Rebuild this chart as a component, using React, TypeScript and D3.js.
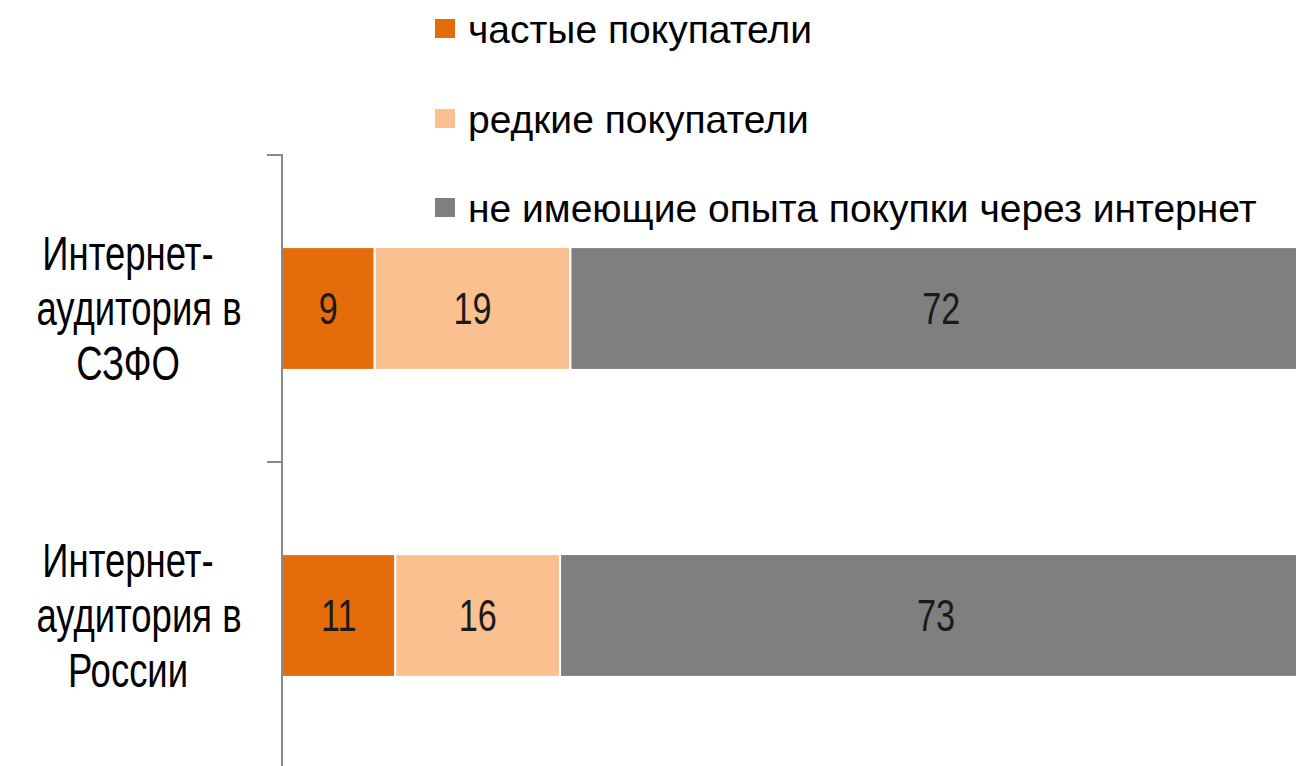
import React, { useEffect, useRef } from 'react';
import * as d3 from 'd3';

const categories = ['Интернет-аудитория в СЗФО', 'Интернет-аудитория в России'];
const categoryLines = [
  ['Интернет-', 'аудитория в', 'СЗФО'],
  ['Интернет-', 'аудитория в', 'России'],
];
const seriesNames = ['частые покупатели', 'редкие покупатели', 'не имеющие опыта покупки через интернет'];
const frequent = [9, 11];
const rare = [19, 16];
const never = [72, 73];
const colors = ['#E46C0A', '#FAC090', '#7F7F7F'];

const FONT = '"Liberation Sans Narrow", "Arial Narrow", "Liberation Sans", Arial, sans-serif';

function App() {
  const ref = useRef<SVGSVGElement>(null);

  useEffect(() => {
    const svg = d3.select(ref.current);
    svg.selectAll('*').remove();

    const rows = categories.map((c, i) => ({
      cat: c,
      lines: categoryLines[i],
      values: [frequent[i], rare[i], never[i]],
    }));

    const x = d3.scaleLinear().domain([0, 100]).range([282, 1312]);
    const band = d3.scaleBand().domain(categories).range([155, 769]);
    const y = d3.scaleBand().domain(categories).range([155, 769]).paddingInner(0.6).paddingOuter(0.3);

    rows.forEach(r => {
      let acc = 0;
      r.values.forEach((v, k) => {
        svg
          .append('rect')
          .attr('x', x(acc))
          .attr('y', y(r.cat)!)
          .attr('width', x(acc + v) - x(acc))
          .attr('height', y.bandwidth())
          .attr('fill', colors[k])
          .attr('stroke', '#fff')
          .attr('stroke-width', 2);
        const cx = (x(acc) + x(acc + v)) / 2;
        svg
          .append('text')
          .attr('transform', `translate(${cx},${y(r.cat)! + y.bandwidth() / 2}) scale(0.76,1)`)
          .attr('dy', '0.35em')
          .attr('text-anchor', 'middle')
          .attr('font-family', FONT)
          .attr('font-size', 45)
          .attr('fill', '#1a1a1a')
          .text(v);
        acc += v;
      });

      const cy = band(r.cat)! + band.bandwidth() / 2;
      r.lines.forEach((ln, j) => {
        svg
          .append('text')
          .attr('transform', `translate(${j === 1 ? 139 : 128},${cy + (j - 1) * 55}) scale(0.76,1)`)
          .attr('dy', '0.35em')
          .attr('text-anchor', 'middle')
          .attr('font-family', FONT)
          .attr('font-size', 48)
          .attr('fill', '#000')
          .text(ln);
      });
    });

    // category axis
    const axis = svg.append('g').attr('transform', 'translate(282,0)').call(
      d3.axisLeft(band).tickSize(15).tickFormat(() => ''),
    );
    axis.select('.domain').attr('stroke', '#888').attr('stroke-width', 2).attr('d', 'M-15,155H0V769');
    axis.selectAll('.tick').attr('transform', d => `translate(0,${band(d as string)! + band.bandwidth()})`);
    axis.selectAll('.tick line').attr('stroke', '#888').attr('stroke-width', 2);

    // legend
    const legendY = [28, 118, 207];
    seriesNames.forEach((s, k) => {
      svg
        .append('rect')
        .attr('x', 435)
        .attr('y', legendY[k] - 9)
        .attr('width', 20)
        .attr('height', 19)
        .attr('fill', colors[k]);
      svg
        .append('text')
        .attr('x', 468)
        .attr('y', legendY[k] + 1)
        .attr('dy', '0.35em')
        .attr('font-family', FONT)
        .attr('font-size', 39)
        .attr('fill', '#000')
        .text(s);
    });
  }, []);

  return (
    <svg
      ref={ref}
      width={1296}
      height={766}
      style={{ position: 'absolute', left: 0, top: 0, background: '#fff' }}
    />
  );
}

export default App;
